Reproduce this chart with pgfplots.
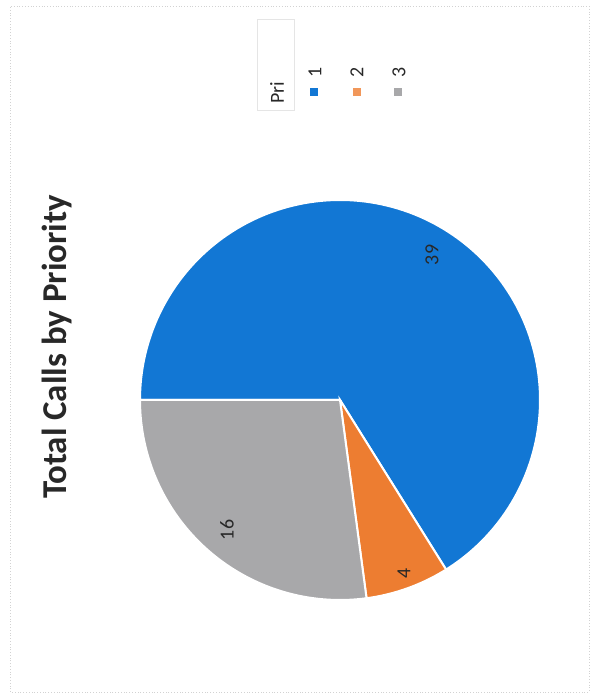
\documentclass[border=0pt]{standalone}
\usepackage{pgfplots}
\pgfplotsset{compat=1.18}
\usepackage{pgfplotstable}
\usepackage{fontspec}
\setmainfont{Carlito}
\definecolor{cblue}{RGB}{18,119,212}
\definecolor{corange}{RGB}{237,125,49}
\definecolor{cgray}{RGB}{168,168,170}
\definecolor{ctext}{RGB}{40,40,40}
\pgfplotstableread{
pri calls
1 39
2 4
3 16
}\calls
\begin{document}
\begin{tikzpicture}
\pgfplotstablegetelem{0}{calls}\of\calls \let\va\pgfplotsretval
\pgfplotstablegetelem{1}{calls}\of\calls \let\vb\pgfplotsretval
\pgfplotstablegetelem{2}{calls}\of\calls \let\vc\pgfplotsretval
\pgfmathsetmacro{\tot}{\va+\vb+\vc}
\pgfmathsetmacro{\aA}{180}
\pgfmathsetmacro{\aB}{180-360*\va/\tot}
\pgfmathsetmacro{\aC}{\aB-360*\vb/\tot}
\pgfmathsetmacro{\aD}{\aC-360*\vc/\tot}
\begin{axis}[scale only axis, width=597bp, height=700bp,
  xmin=0, xmax=597, ymin=0, ymax=700, axis lines=none, clip=false]
% full page extent
\path (axis cs:0,0) rectangle (axis cs:597,700);
% faint scan frame
\draw[gray!35, dotted, line width=0.8bp] (axis cs:10,8) rectangle (axis cs:589,694);
% pie slices
\addplot[fill=cblue, draw=white, line width=2bp, domain=\aB:\aA, samples=150, variable=\t]
  ({340+200*cos(\t)},{300+200*sin(\t)}) -- (axis cs:340,300) -- cycle;
\addplot[fill=corange, draw=white, line width=2bp, domain=\aC:\aB, samples=30, variable=\t]
  ({340+200*cos(\t)},{300+200*sin(\t)}) -- (axis cs:340,300) -- cycle;
\addplot[fill=cgray, draw=white, line width=2bp, domain=\aD:\aC, samples=80, variable=\t]
  ({340+200*cos(\t)},{300+200*sin(\t)}) -- (axis cs:340,300) -- cycle;
% data labels
\node[rotate=90, text=ctext, font=\fontsize{20}{24}\selectfont] at (axis cs:432,445) {\va};
\node[rotate=90, text=ctext, font=\fontsize{20}{24}\selectfont] at (axis cs:404,127) {\vb};
\node[rotate=90, text=ctext, font=\fontsize{20}{24}\selectfont] at (axis cs:227,170) {\vc};
% title
\node[rotate=90, text=ctext, font=\bfseries\fontsize{35}{42}\selectfont] at (axis cs:57,353) {Total Calls by Priority};
% legend
\draw[gray!20, line width=0.8bp] (axis cs:257,590) rectangle (axis cs:294,681);
\node[rotate=90, text=ctext, font=\fontsize{20}{24}\selectfont] at (axis cs:277,607) {Pri};
\addplot[only marks, mark=square*, mark size=3.5bp, color=cblue] coordinates {(314,608)};
\addplot[only marks, mark=square*, mark size=3.5bp, color=corange!80] coordinates {(357,608)};
\addplot[only marks, mark=square*, mark size=3.5bp, color=cgray] coordinates {(398,608)};
\node[rotate=90, text=ctext, font=\fontsize{20}{24}\selectfont] at (axis cs:315,628) {1};
\node[rotate=90, text=ctext, font=\fontsize{20}{24}\selectfont] at (axis cs:357,628) {2};
\node[rotate=90, text=ctext, font=\fontsize{20}{24}\selectfont] at (axis cs:399,628) {3};
\end{axis}
\end{tikzpicture}
\end{document}
